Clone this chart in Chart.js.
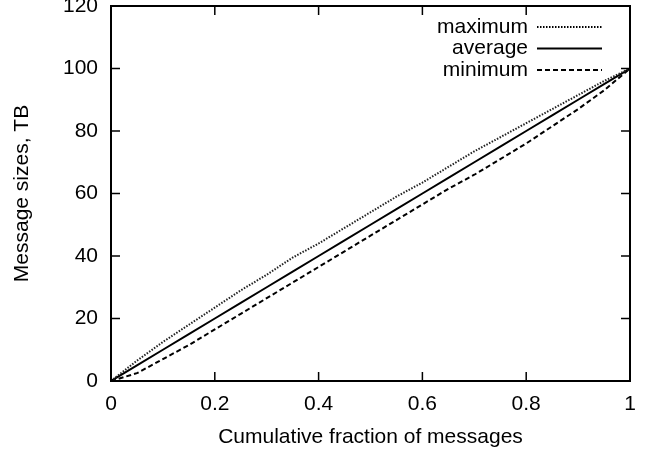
<!DOCTYPE html>
<html>
<head>
<meta charset="utf-8">
<script src="https://cdn.jsdelivr.net/npm/chart.js@4"></script>
<style>
  html, body { margin: 0; padding: 0; background: #fff; }
  #wrap { width: 656px; height: 453px; }
</style>
</head>
<body>
<div id="wrap"><canvas id="grafica"></canvas></div>
<script>
// fraccion acumulada de mensajes
const fracciones = [0, 0.05, 0.1, 0.15, 0.2, 0.25, 0.3, 0.35, 0.4, 0.45, 0.5,
    0.55, 0.6, 0.65, 0.7, 0.75, 0.8, 0.85, 0.9, 0.95, 1];
const maximo = [0, 6.5, 12.5, 18, 23.5, 29, 34, 39.5, 44, 49, 54,
    59, 63.5, 68.5, 73.5, 78, 82.5, 87, 91.5, 96, 100];
const promedio = [0, 5, 10, 15, 20, 25, 30, 35, 40, 45, 50,
    55, 60, 65, 70, 75, 80, 85, 90, 95, 100];
const minimo = [0, 2.5, 7, 11.5, 16.5, 21.5, 26.5, 31.5, 36.5, 41.5, 46.5,
    51.5, 56.5, 61.5, 66, 71, 76, 81.5, 87, 93, 100];
const ticksX = [0, 0.2, 0.4, 0.6, 0.8, 1];
const ticksY = [0, 20, 40, 60, 80, 100, 120];

const fuente = '"Liberation Sans", Arial, Helvetica, sans-serif';
const tamano = 21;

const puntos = (ys) => fracciones.map((x, i) => ({ x: x, y: ys[i] }));

// marcas hacia dentro en los cuatro lados + marco
const marcos = {
    id: 'marcos',
    afterDatasetsDraw(chart) {
        const { ctx, chartArea: a, scales } = chart;
        const largo = 9;
        ctx.save();
        ctx.strokeStyle = '#000';
        ctx.lineWidth = 1.5;
        ctx.beginPath();
        ticksX.forEach(v => {
            const px = scales.x.getPixelForValue(v);
            ctx.moveTo(px, a.bottom); ctx.lineTo(px, a.bottom - largo);
            ctx.moveTo(px, a.top); ctx.lineTo(px, a.top + largo);
        });
        ticksY.forEach(v => {
            const py = scales.y.getPixelForValue(v);
            ctx.moveTo(a.left, py); ctx.lineTo(a.left + largo, py);
            ctx.moveTo(a.right, py); ctx.lineTo(a.right - largo, py);
        });
        ctx.stroke();
        ctx.lineWidth = 2;
        ctx.strokeRect(a.left, a.top, a.right - a.left, a.bottom - a.top);
        ctx.restore();
    }
};

// leyenda estilo gnuplot: texto a la derecha y muestra de linea
const leyenda = {
    id: 'leyenda',
    afterDraw(chart) {
        const { ctx } = chart;
        ctx.save();
        ctx.font = tamano + 'px ' + fuente;
        ctx.textAlign = 'right';
        ctx.textBaseline = 'middle';
        chart.data.datasets.forEach((ds, i) => {
            const y = 27 + i * 21.5;
            ctx.fillStyle = '#000';
            ctx.fillText(ds.label, 528, y);
            ctx.strokeStyle = '#000';
            ctx.lineWidth = ds.borderWidth;
            ctx.setLineDash(ds.borderDash || []);
            ctx.beginPath();
            ctx.moveTo(537, y);
            ctx.lineTo(602, y);
            ctx.stroke();
        });
        ctx.restore();
    }
};

new Chart(document.getElementById('grafica'), {
    type: 'line',
    data: {
        datasets: [
            { label: 'maximum', data: puntos(maximo), borderColor: '#222', borderWidth: 2, borderDash: [1.5, 1.5] },
            { label: 'average', data: puntos(promedio), borderColor: '#000', borderWidth: 2 },
            { label: 'minimum', data: puntos(minimo), borderColor: '#000', borderWidth: 2, borderDash: [5, 3] }
        ]
    },
    options: {
        responsive: true,
        maintainAspectRatio: false,
        animation: false,
        layout: { padding: { left: 0, top: 6, right: 26, bottom: 0 } },
        elements: { point: { radius: 0 }, line: { tension: 0 } },
        plugins: { legend: { display: false }, tooltip: { enabled: false } },
        scales: {
            x: {
                type: 'linear',
                min: 0, max: 1,
                afterFit: (s) => { s.height = 72; s.paddingLeft = 0; s.paddingRight = 0; },
                afterBuildTicks: (s) => { s.ticks = ticksX.map(v => ({ value: v })); },
                grid: { display: false, drawTicks: false },
                border: { display: false },
                ticks: {
                    color: '#000', padding: 11, font: { family: fuente, size: tamano },
                    callback: (v) => String(v)
                },
                title: {
                    display: true, text: 'Cumulative fraction of messages', color: '#000',
                    font: { family: fuente, size: tamano }, padding: { top: 0, bottom: 3 }
                }
            },
            y: {
                min: 0, max: 120,
                afterFit: (s) => { s.width = 111; s.paddingTop = 0; s.paddingBottom = 0; },
                afterBuildTicks: (s) => { s.ticks = ticksY.map(v => ({ value: v })); },
                grid: { display: false, drawTicks: false },
                border: { display: false },
                ticks: { color: '#000', padding: 13, font: { family: fuente, size: tamano } },
                title: {
                    display: true, text: 'Message sizes, TB', color: '#000',
                    font: { family: fuente, size: tamano }, padding: { top: 10, bottom: 0 }
                }
            }
        }
    },
    plugins: [marcos, leyenda]
});
</script>
</body>
</html>
